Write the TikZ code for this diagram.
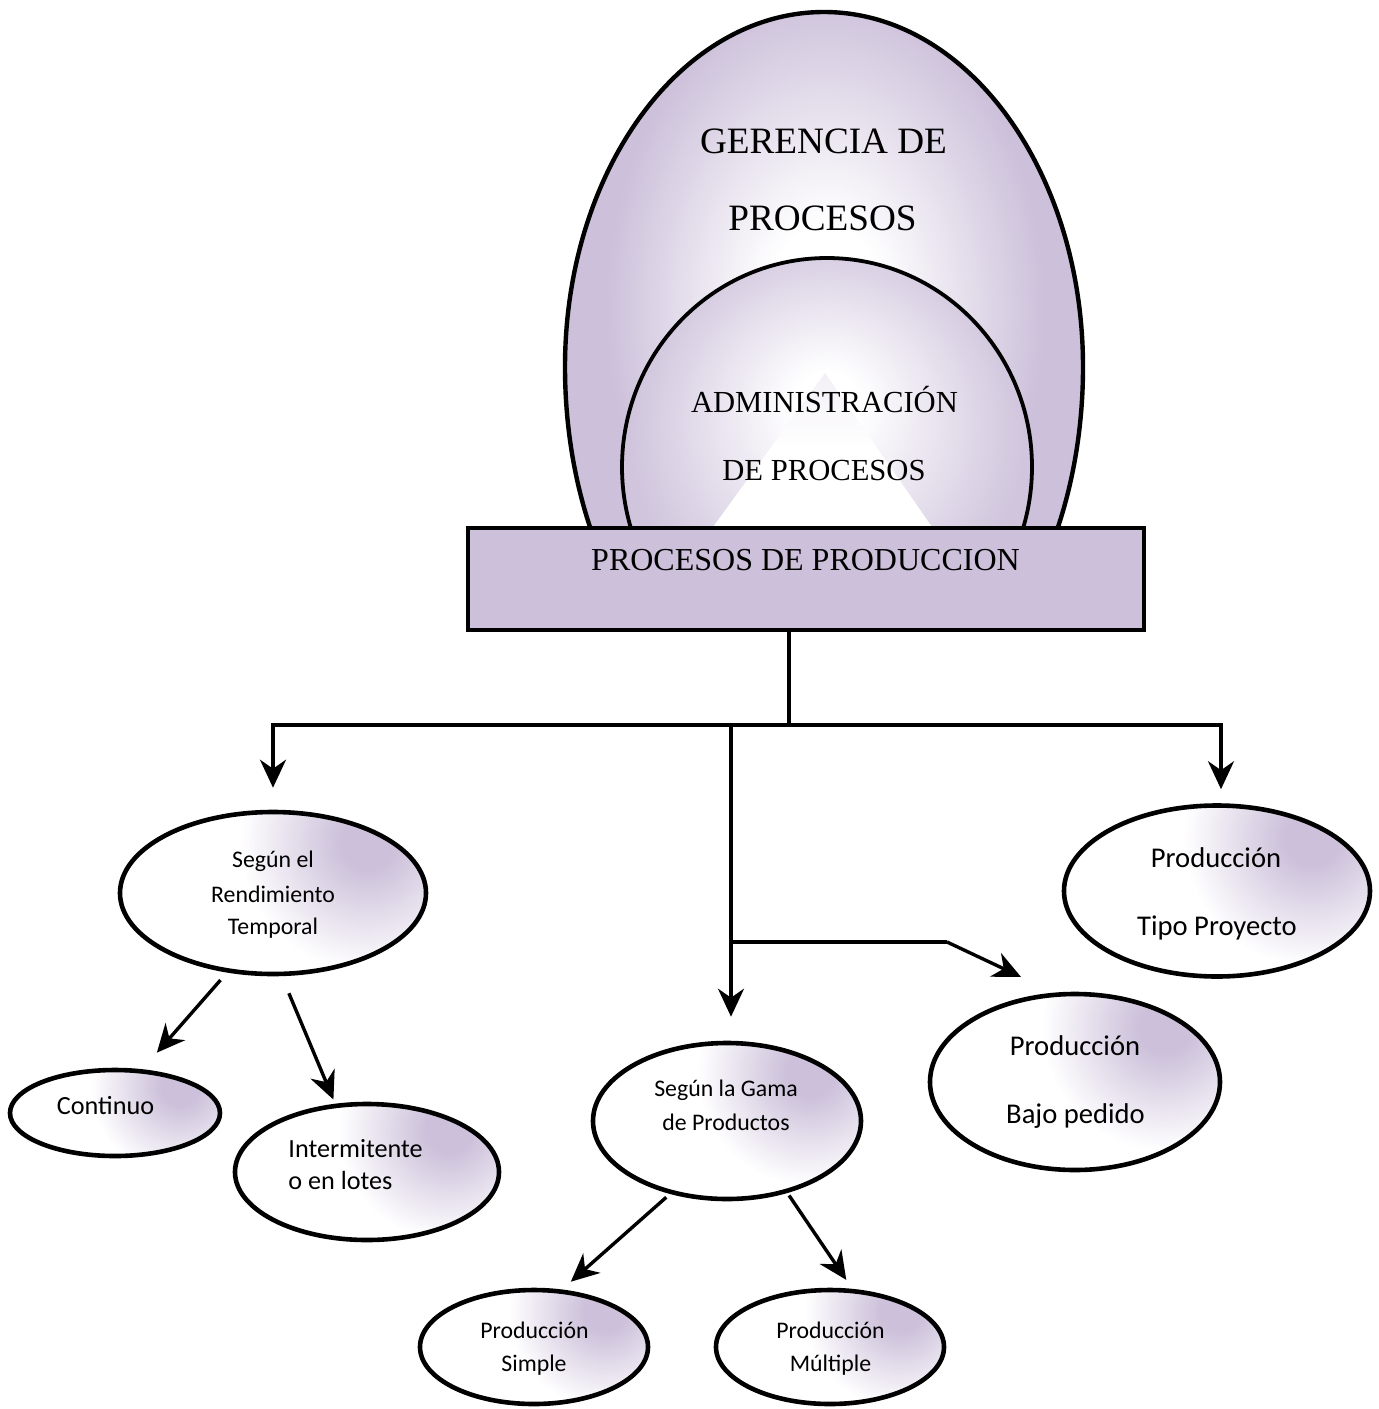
\documentclass[tikz,border=0pt]{standalone}
\usepackage{fontspec}
\setmainfont{Liberation Serif}
\newfontfamily\calibri{Carlito}
\usetikzlibrary{arrows.meta,shapes.geometric,calc}

\definecolor{lav}{RGB}{204,192,218}

% soft glows (the shaded path's box edge sits at 25bp)
\pgfdeclareradialshading{eggglow}{\pgfpoint{0bp}{0bp}}{color(0bp)=(white); color(5bp)=(white); color(19bp)=(lav); color(50bp)=(lav)}
\pgfdeclareradialshading{innerglow}{\pgfpoint{0bp}{8bp}}{color(0bp)=(white); color(4bp)=(white); color(24bp)=(lav!92!white); color(50bp)=(lav)}
% lavender patch placed towards the upper right of each ellipse
\pgfdeclareradialshading{lavspot}{\pgfpoint{0bp}{0bp}}{color(0bp)=(lav); color(13bp)=(lav); color(64bp)=(white); color(66bp)=(white)}

\tikzset{
  bubble/.style={ellipse, draw=black, line width=2.3pt, fill=white, inner sep=0pt,
    path picture={\node[inner sep=0pt] (spot) at
      ($(path picture bounding box.center)!0.62!(path picture bounding box.north east)$)
      {\scalebox{#1}{\pgfuseshading{lavspot}}};}},
  bubble/.default=1,
  plain/.style={line width=1.7pt},
  conn/.style={line width=1.7pt, -{Stealth[length=14pt,width=13pt,inset=4.5pt]}},
  txtS/.style={font=\calibri\fontsize{11.9}{14}\selectfont, anchor=base, inner sep=0pt},
  txtM/.style={font=\calibri\fontsize{13.1}{15}\selectfont, anchor=base, inner sep=0pt},
  txtL/.style={font=\calibri\fontsize{14.3}{17}\selectfont, anchor=base, inner sep=0pt},
  serifXL/.style={font=\fontsize{18.6}{22}\selectfont, anchor=base, inner sep=0pt},
  serifL/.style={font=\fontsize{15.3}{18}\selectfont, anchor=base, inner sep=0pt},
  serifM/.style={font=\fontsize{16}{19}\selectfont, anchor=base, inner sep=0pt},
}

\begin{document}
\begin{tikzpicture}[x=0.5pt, y=-0.5pt]
\useasboundingbox (0,0) rectangle (1378,1409);

% ---- domes above the base block ----
\begin{scope}
  \clip (0,0) rectangle (1378,527);
  % outer dome: glow centred a little above the middle
  \begin{scope}
    \clip (565,367) arc[start angle=180, end angle=360, x radius=259, y radius=355]
      arc[start angle=0, end angle=180, x radius=259, y radius=373] -- cycle;
    \shade[shading=eggglow] (825,310) ellipse[x radius=290, y radius=420];
  \end{scope}
  \draw[line width=2.2pt]
    (565,367) arc[start angle=180, end angle=360, x radius=259, y radius=355]
    arc[start angle=0, end angle=180, x radius=259, y radius=373] -- cycle;
  % inner dome
  \shade[shading=innerglow] (827,467) ellipse[x radius=205, y radius=209];
  % light pyramid
  \shade[top color=white!75!lav, bottom color=white, middle color=white]
    (825,373) -- (932,527) -- (713,527) -- cycle;
  \draw[line width=1.9pt] (827,467) ellipse[x radius=205, y radius=209];
\end{scope}

\node[serifXL] (gerA) at (823.5,153) {GERENCIA DE};
\node[serifXL] (gerB) at (822.5,230) {PROCESOS};
\node[serifL] (admA) at (824.5,412) {ADMINISTRACIÓN};
\node[serifL] (admB) at (824,480) {DE PROCESOS};

% ---- base block ----
\node[draw=black, fill=lav, line width=2pt, minimum width=338pt, minimum height=51pt, inner sep=0pt] (base) at (806,579) {};
\node[serifM] (baseT) at (805.5,570) {PROCESOS DE PRODUCCION};

% ---- ellipses ----
\node[bubble=1, minimum width=153pt, minimum height=81pt] (rend) at (273,893) {};
\node[bubble=1, minimum width=153pt, minimum height=85.5pt] (tipo) at (1217,891) {};
\node[bubble=0.96, minimum width=145pt, minimum height=88pt] (bajo) at (1075,1082) {};
\node[bubble=0.88, minimum width=134pt, minimum height=78pt] (gama) at (727,1121) {};
\node[bubble=0.7, minimum width=105pt, minimum height=43pt] (cont) at (115,1113) {};
\node[bubble=0.86, minimum width=132pt, minimum height=68pt] (inter) at (367,1172) {};
\node[bubble=0.75, minimum width=114pt, minimum height=57pt] (simple) at (534,1347) {};
\node[bubble=0.75, minimum width=114pt, minimum height=57pt] (mult) at (830,1347) {};

% ---- ellipse texts ----
\node[txtS] (rendA) at (273,867.5) {Según el};
\node[txtS] (rendB) at (273,902.5) {Rendimiento};
\node[txtS] (rendC) at (273,934.5) {Temporal};

\node[txtL] (tipoA) at (1216,867) {Producción};
\node[txtL] (tipoB) at (1217,935) {Tipo Proyecto};

\node[txtL] (bajoA) at (1075,1055) {Producción};
\node[txtL] (bajoB) at (1075.5,1123) {Bajo pedido};

\node[txtS] (gamaA) at (726,1096.5) {Según la Gama};
\node[txtS] (gamaB) at (726,1130) {de Productos};

\node[txtM] (contA) at (105.5,1114) {Continuo};
\node[txtM, anchor=base west] (interA) at (288,1157) {Intermitente};
\node[txtM, anchor=base west] (interB) at (288,1189) {o en lotes};

\node[txtS] (simpleA) at (534.5,1338.5) {Producción};
\node[txtS] (simpleB) at (534,1371) {Simple};
\node[txtS] (multA) at (830.5,1338.5) {Producción};
\node[txtS] (multB) at (830.5,1371) {Múltiple};

% ---- connectors ----
\coordinate (jT) at (789,725);
\coordinate (jL) at (273,725);
\coordinate (jR) at (1221,725);
\coordinate (jM) at (731,725);
\coordinate (jB) at (731,942);
\coordinate (kB) at (947,942);

\draw[plain] (jT |- base.south) -- (jT);
\draw[plain, line cap=rect] (jL) -- (jR);
\draw[conn, shorten >=11pt] (jL) -- (rend.north);
\draw[conn, shorten >=7pt] (jR) -- (jR |- tipo.north);
\draw[conn, shorten >=12pt] (jM) -- (jM |- gama.north);
\draw[plain] (jB) -- (kB);
\draw[conn, shorten >=18.5pt] (kB) -- (bajo.103);

\draw[conn, shorten <=5pt, shorten >=11pt] (rend.240.3) -- (cont.58.8);
\draw[conn, shorten <=9.25pt, shorten >=2.25pt] (rend.276.2) -- (inter.115.5);
\draw[conn, shorten <=2.5pt, shorten >=5.85pt] (gama.232.3) -- (simple.64.1);
\draw[conn, shorten <=1.5pt, shorten >=5.4pt] (gama.310.7) -- (mult.69.3);
\end{tikzpicture}
\end{document}
